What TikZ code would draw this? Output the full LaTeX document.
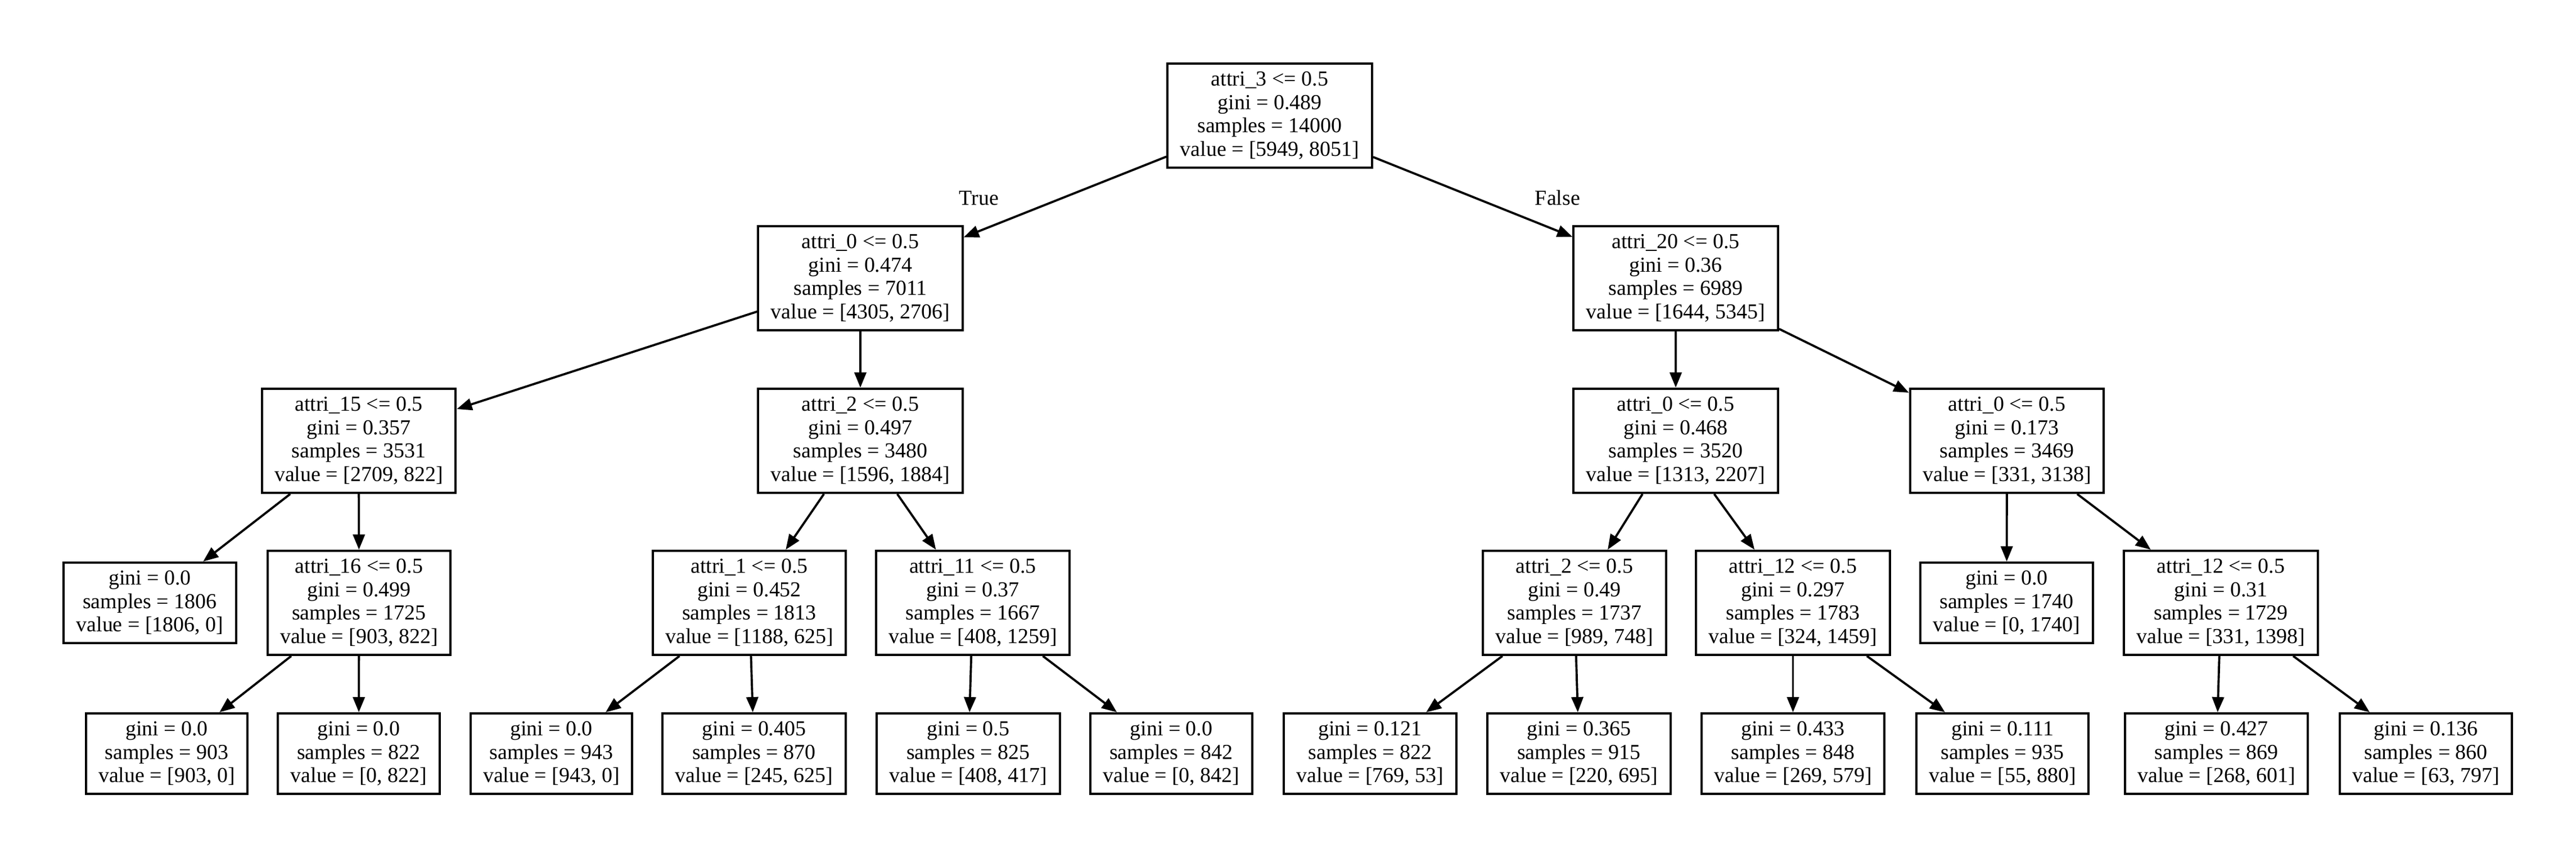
\documentclass[tikz,border=0pt]{standalone}
\usepackage{fontspec}
\setmainfont{Liberation Serif}
\usetikzlibrary{arrows.meta}

\begin{document}
\begin{tikzpicture}

\tikzset{
    split/.style={draw, line width=1.15pt, inner xsep=0.225cm, inner ysep=0pt, minimum height=1.85cm, align=center, font=\fontsize{10.8}{11.8}\selectfont},
    leaf/.style={split, minimum height=1.43cm},
    lbl/.style={font=\fontsize{10.8}{11.8}\selectfont},
    edge/.style={line width=1.1pt, -{Triangle[length=0.27cm, width=0.21cm]}}
}
\useasboundingbox (0,0) rectangle (45.81,-15.25);

\node[split] (root) at (22.58,-2.055) {attri\_3 <= 0.5\\gini = 0.489\\samples = 14000\\value = [5949, 8051]};

\node[split] (a0) at (15.30,-4.945) {attri\_0 <= 0.5\\gini = 0.474\\samples = 7011\\value = [4305, 2706]};
\node[split] (a20) at (29.80,-4.945) {attri\_20 <= 0.5\\gini = 0.36\\samples = 6989\\value = [1644, 5345]};

\node[split] (a15) at (6.38,-7.835) {attri\_15 <= 0.5\\gini = 0.357\\samples = 3531\\value = [2709, 822]};
\node[split] (a2) at (15.30,-7.835) {attri\_2 <= 0.5\\gini = 0.497\\samples = 3480\\value = [1596, 1884]};
\node[split] (a0b) at (29.80,-7.835) {attri\_0 <= 0.5\\gini = 0.468\\samples = 3520\\value = [1313, 2207]};
\node[split] (a0c) at (35.69,-7.835) {attri\_0 <= 0.5\\gini = 0.173\\samples = 3469\\value = [331, 3138]};

\node[leaf] (l1806) at (2.665,-10.715) {gini = 0.0\\samples = 1806\\value = [1806, 0]};
\node[split] (a16) at (6.385,-10.715) {attri\_16 <= 0.5\\gini = 0.499\\samples = 1725\\value = [903, 822]};
\node[split] (a1) at (13.325,-10.715) {attri\_1 <= 0.5\\gini = 0.452\\samples = 1813\\value = [1188, 625]};
\node[split] (a11) at (17.30,-10.715) {attri\_11 <= 0.5\\gini = 0.37\\samples = 1667\\value = [408, 1259]};
\node[split] (a2b) at (28.00,-10.715) {attri\_2 <= 0.5\\gini = 0.49\\samples = 1737\\value = [989, 748]};
\node[split] (a12) at (31.885,-10.715) {attri\_12 <= 0.5\\gini = 0.297\\samples = 1783\\value = [324, 1459]};
\node[leaf] (l1740) at (35.685,-10.715) {gini = 0.0\\samples = 1740\\value = [0, 1740]};
\node[split] (a12b) at (39.495,-10.715) {attri\_12 <= 0.5\\gini = 0.31\\samples = 1729\\value = [331, 1398]};

\node[leaf] (l903) at (2.965,-13.395) {gini = 0.0\\samples = 903\\value = [903, 0]};
\node[leaf] (l822) at (6.38,-13.395) {gini = 0.0\\samples = 822\\value = [0, 822]};
\node[leaf] (l943) at (9.805,-13.395) {gini = 0.0\\samples = 943\\value = [943, 0]};
\node[leaf] (l870) at (13.41,-13.395) {gini = 0.405\\samples = 870\\value = [245, 625]};
\node[leaf] (l825) at (17.22,-13.395) {gini = 0.5\\samples = 825\\value = [408, 417]};
\node[leaf] (l842) at (20.83,-13.395) {gini = 0.0\\samples = 842\\value = [0, 842]};
\node[leaf] (l769) at (24.365,-13.395) {gini = 0.121\\samples = 822\\value = [769, 53]};
\node[leaf] (l915) at (28.08,-13.395) {gini = 0.365\\samples = 915\\value = [220, 695]};
\node[leaf] (l848) at (31.885,-13.395) {gini = 0.433\\samples = 848\\value = [269, 579]};
\node[leaf] (l935) at (35.61,-13.395) {gini = 0.111\\samples = 935\\value = [55, 880]};
\node[leaf] (l869) at (39.415,-13.395) {gini = 0.427\\samples = 869\\value = [268, 601]};
\node[leaf] (l860) at (43.14,-13.395) {gini = 0.136\\samples = 860\\value = [63, 797]};

\node[lbl] (lblTrue) at (17.41,-3.52) {True};
\node[lbl] (lblFalse) at (27.70,-3.52) {False};

\foreach \p/\c in {root/a0, root/a20, a0/a15, a0/a2, a20/a0b, a20/a0c,
    a15/l1806, a15/a16, a2/a1, a2/a11, a0b/a2b, a0b/a12, a0c/l1740, a0c/a12b,
    a16/l903, a16/l822, a1/l943, a1/l870, a11/l825, a11/l842,
    a2b/l769, a2b/l915, a12/l848, a12/l935, a12b/l869, a12b/l860}
    \draw[edge] (\p) -- (\c);
\end{tikzpicture}
\end{document}
